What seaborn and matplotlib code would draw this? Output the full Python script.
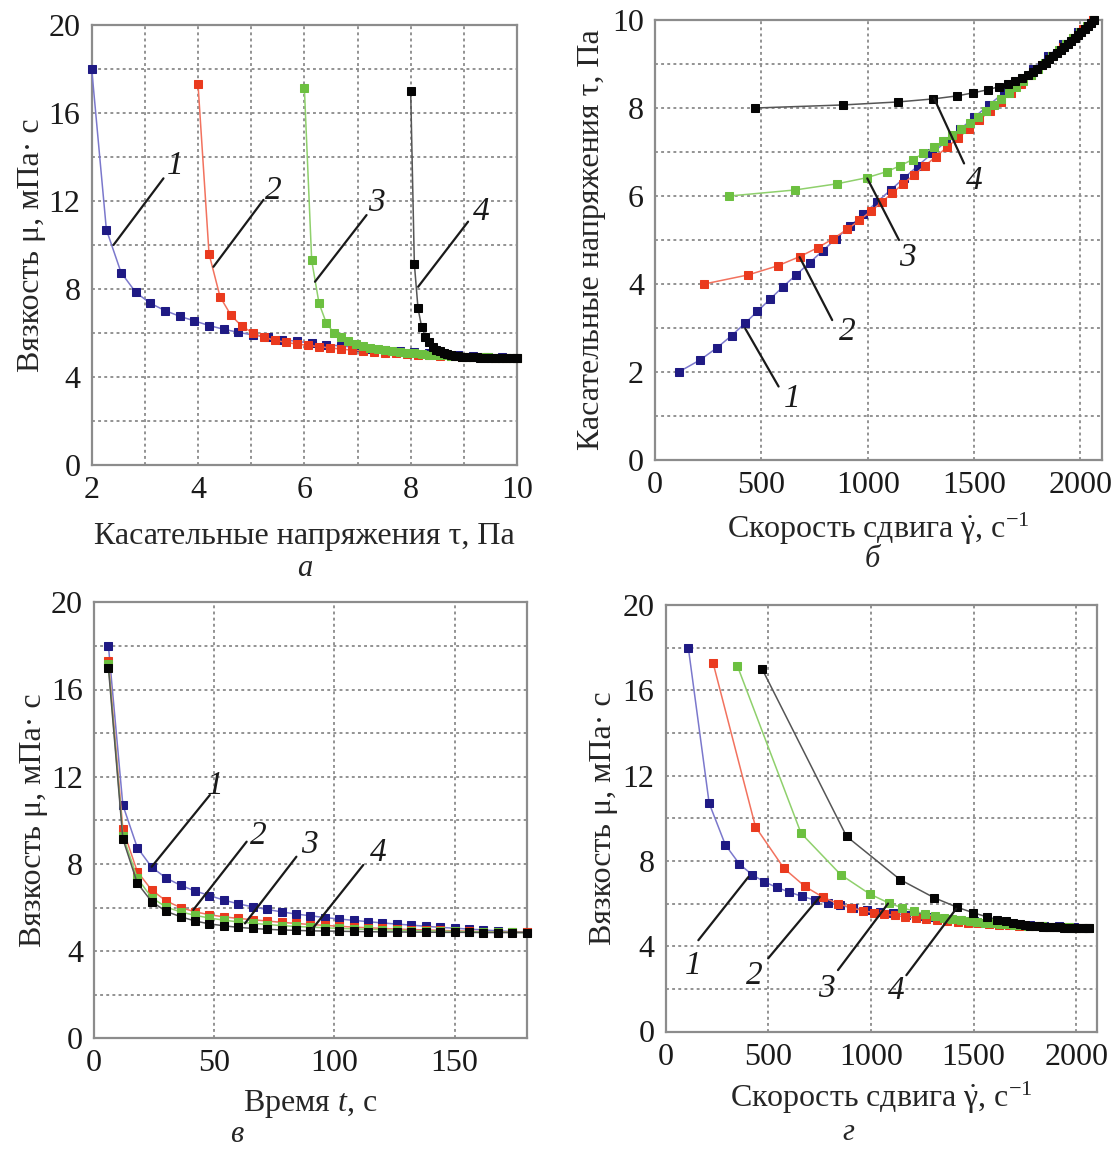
import numpy as np
import pandas as pd
import matplotlib
matplotlib.use("Agg")
import matplotlib.pyplot as plt
import seaborn as sns
from matplotlib.ticker import MultipleLocator

# ---------------- data ----------------
time_s = [6, 12, 18, 24, 30, 36, 42, 48, 54, 60, 66, 72, 78, 84, 90, 96, 102, 108,
          114, 120, 126, 132, 138, 144, 150, 156, 162, 168, 174, 180]

tau_1 = [2.000, 2.276, 2.552, 2.828, 3.103, 3.379, 3.655, 3.931, 4.207, 4.483,
         4.759, 5.034, 5.310, 5.586, 5.862, 6.138, 6.414, 6.690, 6.966, 7.241,
         7.517, 7.793, 8.069, 8.345, 8.621, 8.897, 9.172, 9.448, 9.724, 10.000]
tau_2 = [4.000, 4.207, 4.414, 4.621, 4.828, 5.034, 5.241, 5.448, 5.655, 5.862,
         6.069, 6.276, 6.483, 6.690, 6.897, 7.103, 7.310, 7.517, 7.724, 7.931,
         8.138, 8.345, 8.552, 8.759, 8.966, 9.172, 9.379, 9.586, 9.793, 10.000]
tau_3 = [6.000, 6.138, 6.276, 6.414, 6.552, 6.690, 6.828, 6.966, 7.103, 7.241,
         7.379, 7.517, 7.655, 7.793, 7.931, 8.069, 8.207, 8.345, 8.483, 8.621,
         8.759, 8.897, 9.034, 9.172, 9.310, 9.448, 9.586, 9.724, 9.862, 10.000]
tau_4 = [8.000, 8.069, 8.138, 8.207, 8.276, 8.345, 8.414, 8.483, 8.552, 8.621,
         8.690, 8.759, 8.828, 8.897, 8.966, 9.034, 9.103, 9.172, 9.241, 9.310,
         9.379, 9.448, 9.517, 9.586, 9.655, 9.724, 9.793, 9.862, 9.931, 10.000]

# viscosity, mPa*s
mu_1 = [18.0, 10.7, 8.75, 7.85, 7.35, 7.02, 6.76, 6.55, 6.34, 6.17, 6.03, 5.91, 5.80, 5.70,
        5.62, 5.54, 5.47, 5.41, 5.35, 5.29, 5.24, 5.19, 5.14, 5.09, 5.05, 5.01, 4.97, 4.93,
        4.89, 4.86]
mu_2 = [17.3, 9.6, 7.65, 6.80, 6.30, 6.00, 5.80, 5.67, 5.57, 5.50, 5.44, 5.38, 5.32, 5.27,
        5.22, 5.18, 5.14, 5.10, 5.07, 5.04, 5.01, 4.99, 4.97, 4.95, 4.93, 4.91, 4.89, 4.88,
        4.87, 4.86]
mu_3 = [17.15, 9.3, 7.35, 6.45, 6.02, 5.80, 5.64, 5.52, 5.42, 5.34, 5.28, 5.22, 5.17, 5.13,
        5.10, 5.07, 5.04, 5.02, 5.00, 4.98, 4.96, 4.94, 4.93, 4.92, 4.90, 4.89, 4.88, 4.87,
        4.86, 4.85]
mu_4 = [17.0, 9.15, 7.12, 6.27, 5.82, 5.58, 5.38, 5.25, 5.16, 5.09, 5.04, 5.00, 4.97, 4.95,
        4.93, 4.92, 4.91, 4.90, 4.89, 4.88, 4.88, 4.87, 4.87, 4.86, 4.86, 4.86, 4.85, 4.85,
        4.85, 4.85]

curve_labels = ["1", "2", "3", "4"]
taus = [tau_1, tau_2, tau_3, tau_4]
mus = [mu_1, mu_2, mu_3, mu_4]

# shear rate (1/s) = tau / mu
frames = []
for lab, t, m in zip(curve_labels, taus, mus):
    t = np.array(t); m = np.array(m)
    frames.append(pd.DataFrame({"curve": lab, "time": time_s, "tau": t, "mu": m,
                                "rate": t / (m * 1e-3)}))
df = pd.concat(frames, ignore_index=True)

# ---------------- style ----------------
sns.set_style("white")
plt.rcParams["font.family"] = ["Liberation Serif", "DejaVu Serif"]
plt.rcParams["mathtext.fontset"] = "custom"
plt.rcParams["mathtext.rm"] = "Liberation Serif"
plt.rcParams["mathtext.it"] = "Liberation Serif:italic"
plt.rcParams["axes.unicode_minus"] = True

line_cols = {"1": "#7b78cc", "2": "#f2725e", "3": "#8fd06c", "4": "#555555"}
mark_cols = {"1": "#1f1a84", "2": "#ea3a1e", "3": "#6cc040", "4": "#050505"}

FS = 23
W, H = 1119, 1151
fig = plt.figure(figsize=(W / 100, H / 100), dpi=100)


def box(l, r, t, b):
    return [l / W, 1 - b / H, (r - l) / W, (b - t) / H]


ax_a = fig.add_axes(box(91.7, 517, 25, 465))
ax_b = fig.add_axes(box(655, 1101.7, 20, 460))
ax_c = fig.add_axes(box(94, 526.7, 602.3, 1038.3))
ax_d = fig.add_axes(box(665.5, 1096.7, 605, 1031.5))

grid_kw = dict(color="#8a8a8a", linestyle=(0, (1.6, 1.8)), linewidth=1.3)


def draw(ax, xcol, ycol):
    for lab in curve_labels:
        sub = df[df["curve"] == lab]
        sns.lineplot(data=sub, x=xcol, y=ycol, ax=ax, sort=False, estimator=None,
                     color=line_cols[lab], linewidth=1.1, marker="s", markersize=5.5,
                     markerfacecolor=mark_cols[lab], markeredgecolor=mark_cols[lab],
                     legend=False, zorder=3, clip_on=False)


def style(ax, xlim, ylim, xmaj, xmin, ymaj, ymin, xgrid_minor):
    ax.set_xlim(*xlim)
    ax.set_ylim(*ylim)
    ax.xaxis.set_major_locator(MultipleLocator(xmaj))
    ax.xaxis.set_minor_locator(MultipleLocator(xmin))
    ax.yaxis.set_major_locator(MultipleLocator(ymaj))
    ax.yaxis.set_minor_locator(MultipleLocator(ymin))
    ax.xaxis.grid(True, which="major", **grid_kw)
    if xgrid_minor:
        ax.xaxis.grid(True, which="minor", **grid_kw)
    ax.yaxis.grid(True, which="both", **grid_kw)
    ax.set_axisbelow(True)
    for s in ax.spines.values():
        s.set_color("#8c8c8c")
        s.set_linewidth(1.6)
    ax.tick_params(which="both", direction="in", labelsize=FS, colors="#8c8c8c",
                   labelcolor="#1a1a1a", width=1.0)
    ax.tick_params(which="major", length=4, pad=8)
    ax.tick_params(which="minor", length=3)


# panel a
draw(ax_a, "tau", "mu")
style(ax_a, (2, 10), (0, 20), 2, 1, 4, 2, True)
ax_a.set_xlabel("Касательные напряжения τ, Па", fontsize=FS, labelpad=12)
ax_a.set_ylabel("Вязкость μ, мПа· с", fontsize=FS, labelpad=2)

# panel b
draw(ax_b, "rate", "tau")
style(ax_b, (0, 2100), (0, 10), 500, 100, 2, 1, False)
ax_b.set_xlabel(r"Скорость сдвига $\dot{\mathrm{\gamma}}$, с$^{\mathrm{-1}}$", fontsize=FS, labelpad=8)
ax_b.set_ylabel("Касательные напряжения τ, Па", fontsize=FS, labelpad=4)

# panel c
draw(ax_c, "time", "mu")
style(ax_c, (0, 180), (0, 20), 50, 10, 4, 2, False)
ax_c.set_xlabel(r"Время $t$, с", fontsize=FS, labelpad=7)
ax_c.set_ylabel("Вязкость μ, мПа· с", fontsize=FS, labelpad=2)

# panel d
draw(ax_d, "rate", "mu")
style(ax_d, (0, 2100), (0, 20), 500, 100, 4, 2, False)
ax_d.set_xlabel(r"Скорость сдвига $\dot{\mathrm{\gamma}}$, с$^{\mathrm{-1}}$", fontsize=FS, labelpad=6)
ax_d.set_ylabel("Вязкость μ, мПа· с", fontsize=FS, labelpad=3)

# leader lines with curve numbers
ann = {
    ax_a: [((2.41, 10.0), (3.35, 13.03), (3.57, 13.6)),
           ((4.29, 9.01), (5.23, 12.05), (5.41, 12.45)),
           ((6.20, 8.33), (7.17, 11.36), (7.36, 11.9)),
           ((8.14, 8.10), (9.08, 11.06), (9.33, 11.5))],
    ax_b: [((424, 2.99), (581, 1.67), (644, 1.40)),
           ((680, 4.61), (833, 3.18), (903, 2.92)),
           ((998, 6.40), (1147, 5.00), (1186, 4.60)),
           ((1312, 8.22), (1453, 6.74), (1500, 6.34))],
    ax_c: [((24, 7.87), (48.2, 11.16), (50.3, 11.6)),
           ((41.3, 5.89), (63.5, 9.02), (68.3, 9.3)),
           ((62.8, 5.27), (84.2, 8.33), (89.8, 8.9)),
           ((90.5, 4.97), (112, 7.95), (118.2, 8.5))],
    ax_d: [((403, 7.24), (160, 4.28), (135, 3.1)),
           ((751, 6.31), (500, 3.43), (435, 2.62)),
           ((1084, 6.0), (840, 2.88), (784, 2.0)),
           ((1416, 5.76), (1173, 2.64), (1124, 1.92))],
}
for ax, items in ann.items():
    for lab, (p0, p1, pt) in zip(curve_labels, items):
        ax.plot([p0[0], p1[0]], [p0[1], p1[1]], color="#1a1a1a", linewidth=1.6, zorder=5)
        ax.text(pt[0], pt[1], lab, fontsize=24, fontstyle="italic", ha="center",
                va="center", color="#1a1a1a", zorder=6)

# panel letters
fig.text(305 / W, 1 - 568 / H, "а", fontsize=22, fontstyle="italic", ha="center", va="center")
fig.text(872 / W, 1 - 560 / H, "б", fontsize=22, fontstyle="italic", ha="center", va="center")
fig.text(237 / W, 1 - 1135 / H, "в", fontsize=22, fontstyle="italic", ha="center", va="center")
fig.text(848 / W, 1 - 1132 / H, "г", fontsize=22, fontstyle="italic", ha="center", va="center")

fig.savefig("out.png", dpi=100, facecolor="white")
